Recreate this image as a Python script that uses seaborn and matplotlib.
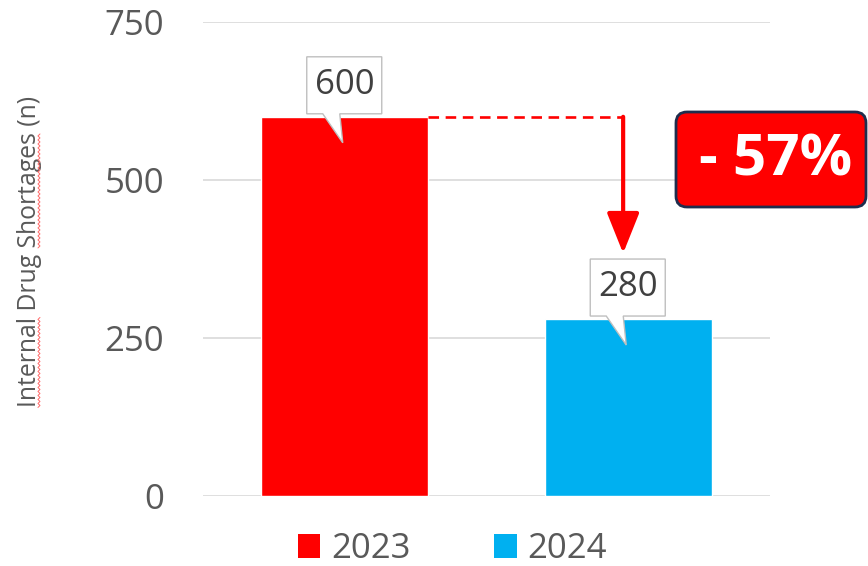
import matplotlib
matplotlib.use("Agg")
import numpy as np
import matplotlib.pyplot as plt
import matplotlib.transforms as mtransforms
from matplotlib.patches import FancyBboxPatch, Polygon, Patch
from matplotlib.font_manager import FontProperties
from matplotlib.lines import Line2D
import seaborn as sns
import pandas as pd

# ---- data ----
years = ["2023", "2024"]
shortages = [600, 280]
colors = ["#FF0000", "#00B0F0"]
y_ticks = [0, 250, 500, 750]
change_label = "- 57%"
y_label = "Internal Drug Shortages (n)"

sns.set_theme(style="white")
plt.rcParams["font.family"] = ["Open Sans", "DejaVu Sans"]

W, H = 868, 566
fig = plt.figure(figsize=(W / 100, H / 100), dpi=100)
ax = fig.add_axes([203 / W, 70 / H, 567 / W, 474 / H])

bar_w = 0.59
df = pd.DataFrame({"year": years, "n": shortages})
sns.barplot(data=df, x="year", y="n", hue="year", palette=colors,
            width=bar_w, dodge=False, legend=False, saturation=1, ax=ax, zorder=2)

fs = 25
ax.set_ylim(0, 750)
ax.set_xlim(-0.5, 1.5)
ax.set_yticks(y_ticks)
ax.set_xticks([])
ax.set_xlabel("")
ax.yaxis.grid(True, color="#D9D9D9", lw=1.2)
ax.set_axisbelow(True)
for s in ax.spines.values():
    s.set_visible(False)
ax.tick_params(axis="y", length=0, pad=28, labelsize=fs, labelcolor="#595959")
lab_fp = FontProperties(family="Open Sans", size=17.8)
ylab = ax.set_ylabel(y_label, fontproperties=lab_fp, color="#595959")
ax.yaxis.set_label_coords(-0.284, 0.515)

# ---- callout labels ----
ident = mtransforms.Affine2D()
for i, v in enumerate(shortages):
    trans = ident + mtransforms.ScaledTranslation(i, v, ax.transData)
    verts = [(-38, 3), (-22, 3), (-2, -26), (-5, 3), (37, 3), (37, 60), (-38, 60)]
    poly = Polygon(verts, closed=True, transform=trans, facecolor="white",
                   edgecolor="#BFBFBF", lw=1, zorder=5, clip_on=False)
    ax.add_patch(poly)
    ax.annotate(str(v), xy=(i, v), xytext=(0, 32), textcoords="offset pixels",
                ha="center", va="center", fontsize=fs, color="#404040", zorder=6)

# ---- dashed line and arrow ----
arrow_x = 1 - 0.018
ax.plot([0 + bar_w / 2, arrow_x], [shortages[0], shortages[0]], color="#FF0000",
        lw=1.9, ls=(0, (4, 2.5)), zorder=3, solid_capstyle="butt")
ax.annotate("", xy=(arrow_x, shortages[1] + 104), xytext=(arrow_x, shortages[0]),
            arrowprops=dict(arrowstyle="-|>,head_length=25,head_width=10",
                            mutation_scale=1, color="#FF0000", lw=3,
                            shrinkA=0, shrinkB=0), zorder=4)

# ---- change badge ----
pix = mtransforms.IdentityTransform()
badge = FancyBboxPatch((676, H - 207), 190, 95, boxstyle="round,pad=0,rounding_size=11",
                       transform=pix, facecolor="#FF0000", edgecolor="#1F2D4D", lw=2)
fig.add_artist(badge)
fig.text(776, H - 160, change_label, transform=pix, ha="center", va="center",
         fontsize=42, fontweight="bold", color="white")

# ---- legend ----
handles = [Patch(facecolor=c, edgecolor="none") for c in colors]
fig.legend(handles, years, loc="center", bbox_to_anchor=(452 / W, 1 - 549 / H),
           ncol=2, frameon=False, fontsize=fs, handlelength=0.66, handleheight=0.66,
           handletextpad=0.3, columnspacing=2.4, labelcolor="#595959")

# ---- spell-check style squiggles under two words of the y label ----
fig.canvas.draw()
renderer = fig.canvas.get_renderer()
bb = ylab.get_window_extent(renderer)

def adv(s):
    return renderer.get_text_width_height_descent(s, lab_fp, ismath=False)[0]

for word in ["Internal", "Shortages"]:
    start = bb.y0 + adv(y_label[:y_label.index(word)])
    length = adv(word)
    ys = np.arange(start, start + length, 2.0)
    xs = bb.x1 - 3 + np.where(np.arange(len(ys)) % 2 == 0, -1.0, 1.0)
    fig.add_artist(Line2D(xs, ys, transform=pix, color="#FF6A6A", lw=0.7))

fig.savefig("out.png", dpi=100)
